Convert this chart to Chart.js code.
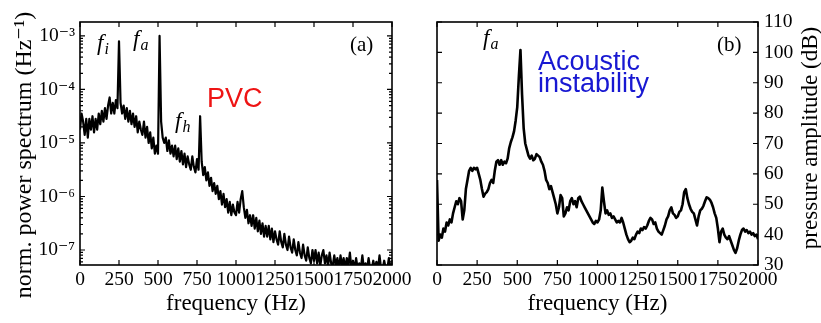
<!DOCTYPE html>
<html>
<head>
<meta charset="utf-8">
<script src="https://cdn.jsdelivr.net/npm/chart.js@4.4.1/dist/chart.umd.min.js"></script>
<style>
  html, body { margin: 0; padding: 0; background: #fff; }
  #wrap { position: relative; width: 821px; height: 323px; overflow: hidden; }
  #chart-a { position: absolute; left: 0; top: 0; }
  #chart-b { position: absolute; left: 420px; top: 0; }
</style>
</head>
<body>
<div id="wrap">
  <canvas id="chart-a" width="420" height="323"></canvas>
  <canvas id="chart-b" width="401" height="323"></canvas>
</div>
<script>
// --- Data (10 Hz grid) ---
const freqHz = [
  0, 10, 20, 30, 40, 50, 60, 70, 80, 90,
  100, 110, 120, 130, 140, 150, 160, 170, 180, 190,
  200, 210, 220, 230, 240, 250, 260, 270, 280, 290,
  300, 310, 320, 330, 340, 350, 360, 370, 380, 390,
  400, 410, 420, 430, 440, 450, 460, 470, 480, 490,
  500, 510, 520, 530, 540, 550, 560, 570, 580, 590,
  600, 610, 620, 630, 640, 650, 660, 670, 680, 690,
  700, 710, 720, 730, 740, 750, 760, 770, 780, 790,
  800, 810, 820, 830, 840, 850, 860, 870, 880, 890,
  900, 910, 920, 930, 940, 950, 960, 970, 980, 990,
  1000, 1010, 1020, 1030, 1040, 1050, 1060, 1070, 1080, 1090,
  1100, 1110, 1120, 1130, 1140, 1150, 1160, 1170, 1180, 1190,
  1200, 1210, 1220, 1230, 1240, 1250, 1260, 1270, 1280, 1290,
  1300, 1310, 1320, 1330, 1340, 1350, 1360, 1370, 1380, 1390,
  1400, 1410, 1420, 1430, 1440, 1450, 1460, 1470, 1480, 1490,
  1500, 1510, 1520, 1530, 1540, 1550, 1560, 1570, 1580, 1590,
  1600, 1610, 1620, 1630, 1640, 1650, 1660, 1670, 1680, 1690,
  1700, 1710, 1720, 1730, 1740, 1750, 1760, 1770, 1780, 1790,
  1800, 1810, 1820, 1830, 1840, 1850, 1860, 1870, 1880, 1890,
  1900, 1910, 1920, 1930, 1940, 1950, 1960, 1970, 1980, 1990,
  2000
];

// (a) normalised power spectrum (1/Hz)
const powerA = [
  1.78e-5, 3.55e-5, 2.51e-5, 1.41e-5, 2.82e-5, 1.26e-5, 2.82e-5, 1.78e-5, 3.16e-5, 1.58e-5,
  2.82e-5, 1.78e-5, 3.55e-5, 2.24e-5, 3.98e-5, 2.51e-5, 4.47e-5, 2.82e-5, 5.01e-5, 7.08e-5,
  3.55e-5, 5.62e-5, 3.55e-5, 6.31e-5, 4.47e-5, 7.94e-4, 5.62e-5, 3.55e-5, 5.01e-5, 2.82e-5,
  4.47e-5, 2.51e-5, 3.98e-5, 2.24e-5, 3.55e-5, 2.0e-5, 3.16e-5, 1.58e-5, 2.51e-5, 1.78e-5,
  1.41e-5, 2.51e-5, 1.26e-5, 2.0e-5, 1.0e-5, 1.58e-5, 7.94e-6, 1.26e-5, 6.31e-6, 8.91e-6,
  6.31e-6, 1.0e-3, 2.51e-5, 1.26e-5, 1.0e-5, 1.26e-5, 7.08e-6, 1.12e-5, 6.31e-6, 8.91e-6,
  5.62e-6, 8.91e-6, 5.01e-6, 7.94e-6, 4.47e-6, 7.08e-6, 3.98e-6, 6.31e-6, 3.55e-6, 5.62e-6,
  3.98e-6, 3.16e-6, 5.62e-6, 3.55e-6, 2.82e-6, 5.01e-6, 3.16e-6, 3.16e-5, 4.47e-6, 2.51e-6,
  3.55e-6, 2.0e-6, 2.82e-6, 1.58e-6, 2.24e-6, 1.26e-6, 1.78e-6, 1.12e-6, 1.58e-6, 8.91e-7,
  1.26e-6, 7.08e-7, 1.12e-6, 6.31e-7, 8.91e-7, 5.01e-7, 7.94e-7, 4.47e-7, 7.08e-7, 5.01e-7,
  4.47e-7, 7.94e-7, 5.01e-7, 8.91e-7, 1.26e-6, 6.31e-7, 3.98e-7, 5.62e-7, 3.16e-7, 4.47e-7,
  2.82e-7, 4.47e-7, 2.51e-7, 3.98e-7, 2.24e-7, 3.55e-7, 2.0e-7, 3.16e-7, 1.78e-7, 2.82e-7,
  1.78e-7, 2.82e-7, 1.58e-7, 2.51e-7, 1.41e-7, 2.24e-7, 1.58e-7, 1.26e-7, 2.24e-7, 1.41e-7,
  1.12e-7, 2.0e-7, 1.26e-7, 1.0e-7, 1.78e-7, 1.12e-7, 8.91e-8, 1.58e-7, 1.0e-7, 7.94e-8,
  1.41e-7, 8.91e-8, 7.08e-8, 1.26e-7, 7.94e-8, 6.31e-8, 1.12e-7, 7.08e-8, 5.62e-8, 1.0e-7,
  6.31e-8, 1.0e-7, 5.62e-8, 8.91e-8, 5.01e-8, 7.94e-8, 1.0e-7, 5.62e-8, 7.94e-8, 5.01e-8,
  8.91e-8, 5.62e-8, 5.01e-8, 7.94e-8, 5.01e-8, 7.08e-8, 4.47e-8, 7.94e-8, 5.01e-8, 7.08e-8,
  4.47e-8, 7.08e-8, 5.01e-8, 8.91e-8, 4.47e-8, 6.31e-8, 4.47e-8, 7.08e-8, 4.47e-8, 5.62e-8,
  4.47e-8, 7.94e-8, 4.47e-8, 5.62e-8, 4.47e-8, 7.08e-8, 4.47e-8, 4.47e-8, 6.31e-8, 4.47e-8,
  6.03e-8, 4.47e-8, 7.94e-8, 4.47e-8, 4.47e-8, 6.31e-8, 4.47e-8, 4.47e-8, 7.08e-8, 4.47e-8,
  5.62e-8
];

// (b) pressure amplitude (dB)
const ampB = [
  58, 38, 40, 39, 42, 41, 44, 43, 45, 44,
  47, 49, 51, 50, 52, 51, 45, 48, 55, 58,
  61, 62, 61, 62, 61.5, 62, 60, 58, 55, 52.5,
  53.5, 54, 55, 57, 58, 57, 61, 64, 64.5, 63,
  64.5, 63, 64, 63.5, 65, 68.5, 70.5, 72, 74, 77.5,
  82, 92, 100.8, 86, 75, 70, 68, 66, 65, 66,
  64.5, 65, 66.5, 66, 65.5, 64, 63, 61, 58, 57,
  55, 56, 54, 52, 50, 47, 49, 53, 52, 46,
  47, 49, 48, 51, 52, 50, 51, 49, 52, 52.5,
  51, 50, 49, 48, 47, 46, 45, 44, 43.5, 44.5,
  44, 45, 48, 55.5, 51, 47, 48, 46.5, 47, 45.5,
  46, 45, 44, 44.5, 44, 45.5, 44, 42, 40, 38.5,
  37.5, 38, 39, 38.5, 40, 41, 40.5, 42, 41.5, 42.5,
  42, 43, 44.5, 45.5, 45, 43.5, 44, 42, 41, 40.5,
  40, 41.5, 43, 45, 46, 48, 49, 47, 46.5, 45.5,
  46, 47.5, 48, 50, 54, 55, 52, 50, 48.5, 47.5,
  47, 45, 43, 46, 48, 48.5, 49.5, 51, 52.3, 52,
  51.5, 50.5, 49, 47, 45.5, 42, 37.5, 41, 42, 40,
  39, 38.5, 39.5, 38, 36.5, 35, 34, 35.5, 38, 40,
  41.5, 42, 41, 41.5, 40.5, 41, 40, 40.5, 39.5, 40,
  38.5
];

const yTickValuesA = [1e-7, 1e-6, 1e-5, 1e-4, 1e-3];
const yTickLabelsA = ['10⁻⁷', '10⁻⁶', '10⁻⁵', '10⁻⁴', '10⁻³'];

const SERIF = '"Liberation Serif", "DejaVu Serif", serif';
const SANS = '"Liberation Sans", Arial, sans-serif';

// --- frame with inward ticks on all four sides ---
const frameTicks = {
    id: 'frameTicks',
    afterDraw(chart, args, opts) {
        const { ctx, chartArea: a, scales } = chart;
        const x = scales.x, y = scales.y;
        ctx.save();
        ctx.strokeStyle = '#000';
        ctx.lineWidth = 1.2;
        ctx.beginPath();
        x.ticks.forEach(t => {
            const px = x.getPixelForValue(t.value);
            ctx.moveTo(px, a.bottom); ctx.lineTo(px, a.bottom - 5);
            ctx.moveTo(px, a.top); ctx.lineTo(px, a.top + 5);
        });
        y.ticks.forEach(t => {
            const py = y.getPixelForValue(t.value);
            ctx.moveTo(a.left, py); ctx.lineTo(a.left + 5, py);
            ctx.moveTo(a.right, py); ctx.lineTo(a.right - 5, py);
        });
        (opts.minor || []).forEach(v => {
            if (v < y.min || v > y.max) return;
            const py = y.getPixelForValue(v);
            ctx.moveTo(a.left, py); ctx.lineTo(a.left + 3, py);
            ctx.moveTo(a.right, py); ctx.lineTo(a.right - 3, py);
        });
        ctx.stroke();
        ctx.lineWidth = 1.6;
        ctx.strokeRect(a.left, a.top, a.right - a.left, a.bottom - a.top);
        ctx.restore();
    }
};

// --- text annotations ---
function mathLabel(ctx, px, py, base, sub) {
    ctx.font = 'italic 23px ' + SERIF;
    ctx.fillText(base, px, py);
    const w = ctx.measureText(base).width;
    ctx.font = 'italic 16px ' + SERIF;
    ctx.fillText(sub, px + w + 1, py + 4);
}

const notes = {
    id: 'notes',
    afterDraw(chart, args, opts) {
        const { ctx, scales } = chart;
        ctx.save();
        ctx.textAlign = 'left';
        ctx.textBaseline = 'alphabetic';
        ctx.fillStyle = '#000';
        (opts.math || []).forEach(m => {
            mathLabel(ctx, scales.x.getPixelForValue(m.x), scales.y.getPixelForValue(m.y), m.base, m.sub);
        });
        (opts.texts || []).forEach(t => {
            ctx.font = t.font;
            ctx.fillStyle = t.color || '#000';
            ctx.fillText(t.text, scales.x.getPixelForValue(t.x), scales.y.getPixelForValue(t.y));
        });
        // vertical axis title, reading bottom to top
        if (opts.yTitle) {
            const yt = opts.yTitle;
            ctx.fillStyle = '#000';
            ctx.font = yt.font;
            ctx.textAlign = 'center';
            ctx.translate(yt.x, yt.y);
            ctx.rotate(-Math.PI / 2);
            ctx.fillText(yt.text, 0, 0);
        }
        ctx.restore();
    }
};

// minor tick positions of the log axis
const minorA = [];
for (let d = -8; d <= -3; d++) {
    for (let k = 2; k <= 9; k++) minorA.push(k * Math.pow(10, d));
}

function xAxis() {
    return {
        type: 'linear',
        min: 0,
        max: 2000,
        grid: { display: false, drawTicks: false },
        border: { display: false },
        ticks: {
            stepSize: 250,
            autoSkip: false,
            maxRotation: 0,
            padding: 3,
            color: '#000',
            font: { family: SERIF, size: 19.5 },
            callback: v => String(v)
        },
        title: {
            display: true,
            text: 'frequency (Hz)',
            color: '#000',
            font: { family: SERIF, size: 23 },
            padding: { top: 0, bottom: 5 }
        },
        afterFit(scale) { scale.height = 58; }
    };
}

const chartA = new Chart(document.getElementById('chart-a'), {
    type: 'line',
    data: {
        datasets: [{
            data: freqHz.map((f, i) => ({ x: f, y: powerA[i] })),
            borderColor: '#000',
            borderWidth: 2.2,
            borderJoinStyle: 'round',
            pointRadius: 0,
            tension: 0
        }]
    },
    options: {
        responsive: false,
        animation: false,
        layout: { padding: { top: 22, right: 28, left: 0, bottom: 0 } },
        plugins: {
            legend: { display: false },
            tooltip: { enabled: false },
            frameTicks: { minor: minorA },
            notes: {
                math: [
                    { base: 'f', sub: 'i', x: 109, y: 5.5e-4 },
                    { base: 'f', sub: 'a', x: 340, y: 6.5e-4 },
                    { base: 'f', sub: 'h', x: 609, y: 1.9e-5 }
                ],
                texts: [
                    { text: 'PVC', x: 814, y: 4.7e-5, font: '27px ' + SANS, color: '#ee1414' },
                    { text: '(a)', x: 1731, y: 5.25e-4, font: '21px ' + SERIF }
                ],
                yTitle: { text: 'norm. power spectrum (Hz⁻¹)', x: 31, y: 155, font: '24px ' + SERIF }
            }
        },
        scales: {
            x: xAxis(),
            y: {
                type: 'logarithmic',
                position: 'left',
                min: 5.25e-8,
                max: 1.82e-3,
                grid: { display: false, drawTicks: false },
                border: { display: false },
                afterBuildTicks(scale) {
                    scale.ticks = yTickValuesA.map(v => ({ value: v }));
                },
                ticks: {
                    padding: 5,
                    color: '#000',
                    font: { family: SERIF, size: 19.5 },
                    callback(value) {
                        const i = yTickValuesA.indexOf(value);
                        return i >= 0 ? yTickLabelsA[i] : '';
                    }
                },
                afterFit(scale) { scale.width = 80; }
            }
        }
    },
    plugins: [frameTicks, notes]
});

const chartB = new Chart(document.getElementById('chart-b'), {
    type: 'line',
    data: {
        datasets: [{
            data: freqHz.map((f, i) => ({ x: f, y: ampB[i] })),
            borderColor: '#000',
            borderWidth: 2.6,
            borderJoinStyle: 'round',
            pointRadius: 0,
            tension: 0
        }]
    },
    options: {
        responsive: false,
        animation: false,
        layout: { padding: { top: 22, right: 0, left: 17, bottom: 0 } },
        plugins: {
            legend: { display: false },
            tooltip: { enabled: false },
            frameTicks: {},
            notes: {
                math: [
                    { base: 'f', sub: 'a', x: 287, y: 102.4 }
                ],
                texts: [
                    { text: 'Acoustic', x: 629, y: 94.2, font: '27px ' + SANS, color: '#1818d2' },
                    { text: 'instability', x: 629, y: 87.0, font: '27px ' + SANS, color: '#1818d2' },
                    { text: '(b)', x: 1745, y: 100.4, font: '21px ' + SERIF }
                ],
                yTitle: { text: 'pressure amplitude (dB)', x: 397, y: 138, font: '23px ' + SERIF }
            }
        },
        scales: {
            x: xAxis(),
            y: {
                type: 'linear',
                position: 'right',
                min: 30,
                max: 110,
                grid: { display: false, drawTicks: false },
                border: { display: false },
                ticks: {
                    stepSize: 10,
                    padding: 6,
                    color: '#000',
                    font: { family: SERIF, size: 19.5 }
                },
                afterFit(scale) { scale.width = 63; }
            }
        }
    },
    plugins: [frameTicks, notes]
});
</script>
</body>
</html>
